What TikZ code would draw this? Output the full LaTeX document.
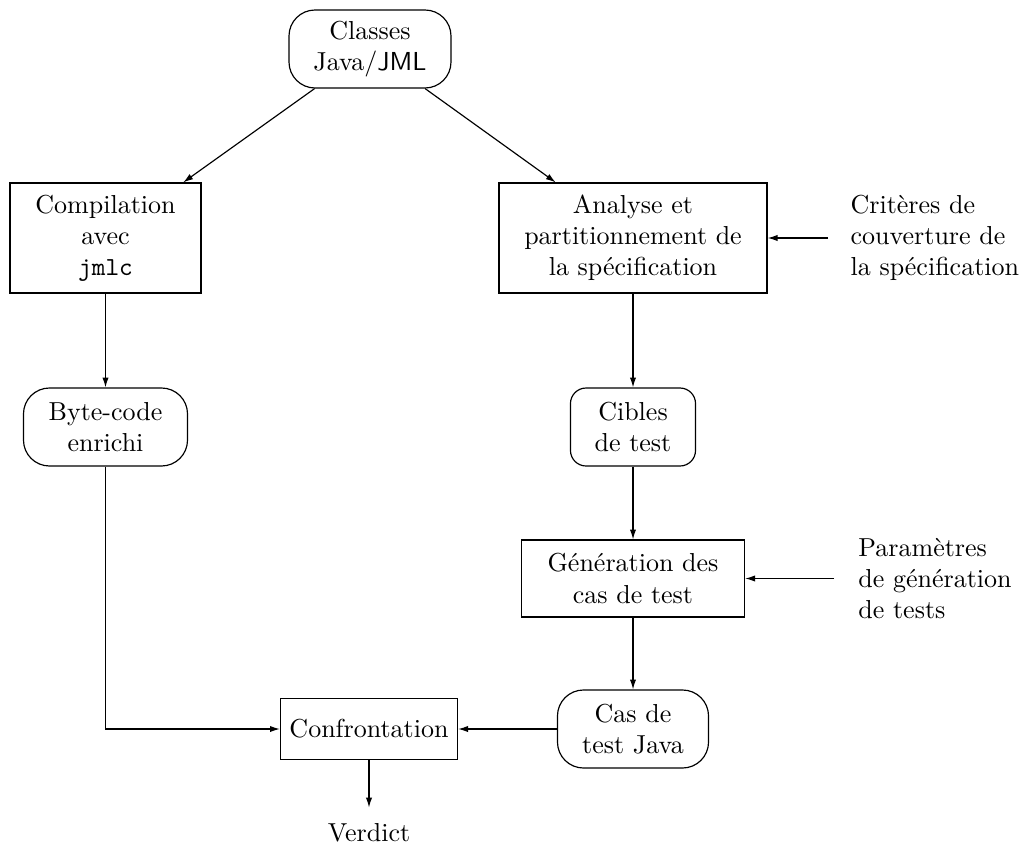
\documentclass[tikz,border=0pt]{standalone}
\usetikzlibrary{arrows.meta}
\begin{document}
\begin{tikzpicture}[x=0.3846pt,y=-0.3846pt,
  box/.style={draw, line width=0.45pt, align=center, inner sep=0pt},
  rbox/.style={box, rounded corners=10pt},
  lbl/.style={align=left, inner ysep=0pt},
  arr/.style={-{Latex[length=3.8pt,width=2.4pt]}, line width=0.45pt}]
\useasboundingbox (0,0) rectangle (1025,857);
% process boxes and artefacts
\node[rbox, minimum width=62.3pt, minimum height=30pt] (classes) at (370,49) {Classes\\Java/\textsf{JML}};
\node[box, minimum width=73.5pt, minimum height=42.3pt] (compil) at (105.5,238) {Compilation\\avec\\\texttt{jmlc}};
\node[box, minimum width=103.1pt, minimum height=42.3pt] (analyse) at (633,238) {Analyse et\\partitionnement de\\la spécification};
\node[lbl, inner xsep=8.5pt, anchor=west] (crit) at (828,238) {Critères de\\couverture de\\la spécification};
\node[rbox, minimum width=63.1pt, minimum height=30pt] (byte) at (105.5,427) {Byte-code\\enrichi};
\node[rbox, rounded corners=6pt, minimum width=48.1pt, minimum height=30pt] (cibles) at (633,427) {Cibles\\de test};
\node[box, minimum width=85.8pt, minimum height=29.6pt] (gen) at (633,578.5) {Génération des\\cas de test};
\node[lbl, inner xsep=9.2pt, anchor=west] (param) at (834,578.5) {Paramètres\\de génération\\de tests};
\node[rbox, minimum width=58.1pt, minimum height=30pt] (cas) at (633,729) {Cas de\\test Java};
\node[box, minimum width=68.1pt, minimum height=23.5pt] (confr) at (369,729) {Confrontation};
\node[inner sep=6pt] (verdict) at (369,833) {Verdict};
% flow
\draw[arr] (classes) -- (compil);
\draw[arr] (classes) -- (analyse);
\draw[arr] (crit) -- (analyse);
\draw[arr] (compil) -- (byte);
\draw[arr] (analyse) -- (cibles);
\draw[arr] (cibles) -- (gen);
\draw[arr] (param) -- (gen);
\draw[arr] (gen) -- (cas);
\draw[arr] (cas) -- (confr);
\draw[arr] (byte) |- (confr);
\draw[arr] (confr) -- (verdict);
\end{tikzpicture}
\end{document}
